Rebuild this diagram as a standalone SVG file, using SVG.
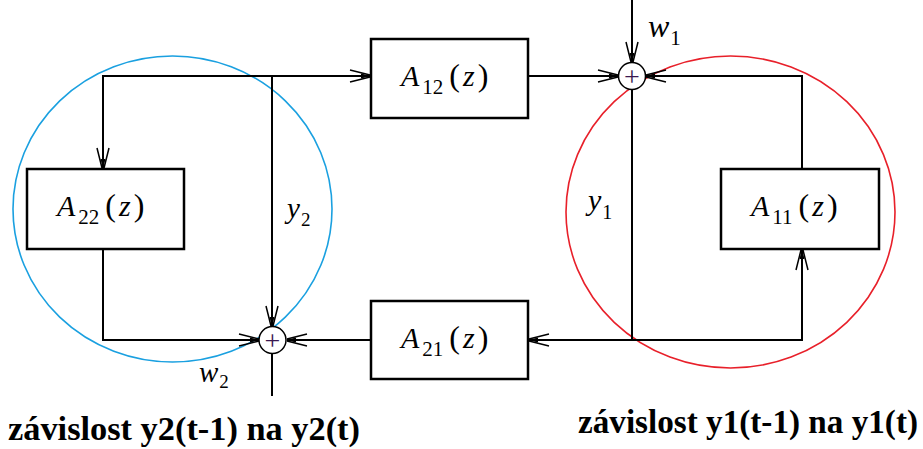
<svg xmlns="http://www.w3.org/2000/svg" width="923" height="449" viewBox="0 0 923 449">
<style>
.box{fill:#fff;stroke:#000;stroke-width:2.5}
.sum{fill:#fff;stroke:#000;stroke-width:1.5}
.conn{fill:none;stroke:#000;stroke-width:2}
.plus{font-size:28px;fill:#3a1850;text-anchor:middle}
</style>
<defs>
<marker id="arr" viewBox="-24 -8 26 16" refX="0" refY="0" markerWidth="26" markerHeight="16" markerUnits="userSpaceOnUse" orient="auto">
<path d="M1,0 L-9,-2.5 L-9,2.5 Z" fill="#000"/>
<path d="M0,-1 L-20,-6 M0,1 L-20,6" stroke="#000" stroke-width="1.5" fill="none"/>
</marker>
</defs>
<rect width="923" height="449" fill="#fff"/>

<ellipse id="groupY2" cx="172.5" cy="209" rx="159.5" ry="153" fill="none" stroke="#1aa0e0" stroke-width="1.6"/>
<ellipse id="groupY1" cx="730.5" cy="212" rx="164.5" ry="156" fill="none" stroke="#e8202a" stroke-width="1.6"/>

<g id="connectors" class="conn">
<path d="M272,76 L103,76 L103,168" marker-end="url(#arr)"/>
<path d="M272,76 L370,76" marker-end="url(#arr)"/>
<path d="M272,76 L272,326" marker-end="url(#arr)"/>
<path d="M103,249 L103,340 L259,340" marker-end="url(#arr)"/>
<path d="M371,340 L287,340" marker-end="url(#arr)"/>
<path d="M272,354 L272,396"/>
<path d="M528,76 L618,76" marker-end="url(#arr)"/>
<path d="M632,0 L632,62" marker-end="url(#arr)"/>
<path d="M802,169 L802,76 L646,76" marker-end="url(#arr)"/>
<path d="M632,90 L632,340"/>
<path d="M632,340 L529,340" marker-end="url(#arr)"/>
<path d="M632,340 L802,340 L802,250" marker-end="url(#arr)"/>
</g>

<g font-family="Liberation Serif, serif" fill="#000">
<g id="A12">
<rect class="box" x="371" y="39" width="157" height="79"/>
<text x="401" y="86"><tspan font-style="italic" font-size="30">A</tspan><tspan dx="3" dy="8" font-size="21">12</tspan><tspan dx="6" dy="-8" font-size="32">(</tspan><tspan font-style="italic" dx="3" font-size="30">z</tspan><tspan dx="3" font-size="32">)</tspan></text>
</g>
<g id="A22">
<rect class="box" x="27" y="169" width="157" height="80"/>
<text x="57" y="216"><tspan font-style="italic" font-size="30">A</tspan><tspan dx="3" dy="8" font-size="21">22</tspan><tspan dx="6" dy="-8" font-size="32">(</tspan><tspan font-style="italic" dx="3" font-size="30">z</tspan><tspan dx="3" font-size="32">)</tspan></text>
</g>
<g id="A11">
<rect class="box" x="721" y="169" width="158" height="80"/>
<text x="751" y="216"><tspan font-style="italic" font-size="30">A</tspan><tspan dx="3" dy="8" font-size="21">11</tspan><tspan dx="6" dy="-8" font-size="32">(</tspan><tspan font-style="italic" dx="3" font-size="30">z</tspan><tspan dx="3" font-size="32">)</tspan></text>
</g>
<g id="A21">
<rect class="box" x="371" y="301" width="157" height="78"/>
<text x="401" y="348"><tspan font-style="italic" font-size="30">A</tspan><tspan dx="3" dy="8" font-size="21">21</tspan><tspan dx="6" dy="-8" font-size="32">(</tspan><tspan font-style="italic" dx="3" font-size="30">z</tspan><tspan dx="3" font-size="32">)</tspan></text>
</g>

<g id="sum1">
<circle class="sum" cx="632" cy="76" r="13.5"/>
<text class="plus" x="632" y="85.5">+</text>
</g>
<g id="sum2">
<circle class="sum" cx="272.5" cy="340" r="13.5"/>
<text class="plus" x="272.5" y="349.5">+</text>
</g>

<g id="labels">
<text x="648" y="37"><tspan font-style="italic" font-size="32">w</tspan><tspan dx="1" dy="8" font-size="21">1</tspan></text>
<text x="199" y="382"><tspan font-style="italic" font-size="29">w</tspan><tspan dx="1" dy="6" font-size="19">2</tspan></text>
<text x="287" y="218"><tspan font-style="italic" font-size="29">y</tspan><tspan dx="1" dy="8" font-size="19">2</tspan></text>
<text x="588" y="210"><tspan font-style="italic" font-size="30">y</tspan><tspan dx="1" dy="9" font-size="20">1</tspan></text>
</g>

<text x="8" y="440" font-weight="bold" font-size="33" textLength="352" lengthAdjust="spacingAndGlyphs">závislost y2(t-1) na y2(t)</text>
<text x="578" y="433" font-weight="bold" font-size="33" textLength="340" lengthAdjust="spacingAndGlyphs">závislost y1(t-1) na y1(t)</text>
</g>
</svg>
